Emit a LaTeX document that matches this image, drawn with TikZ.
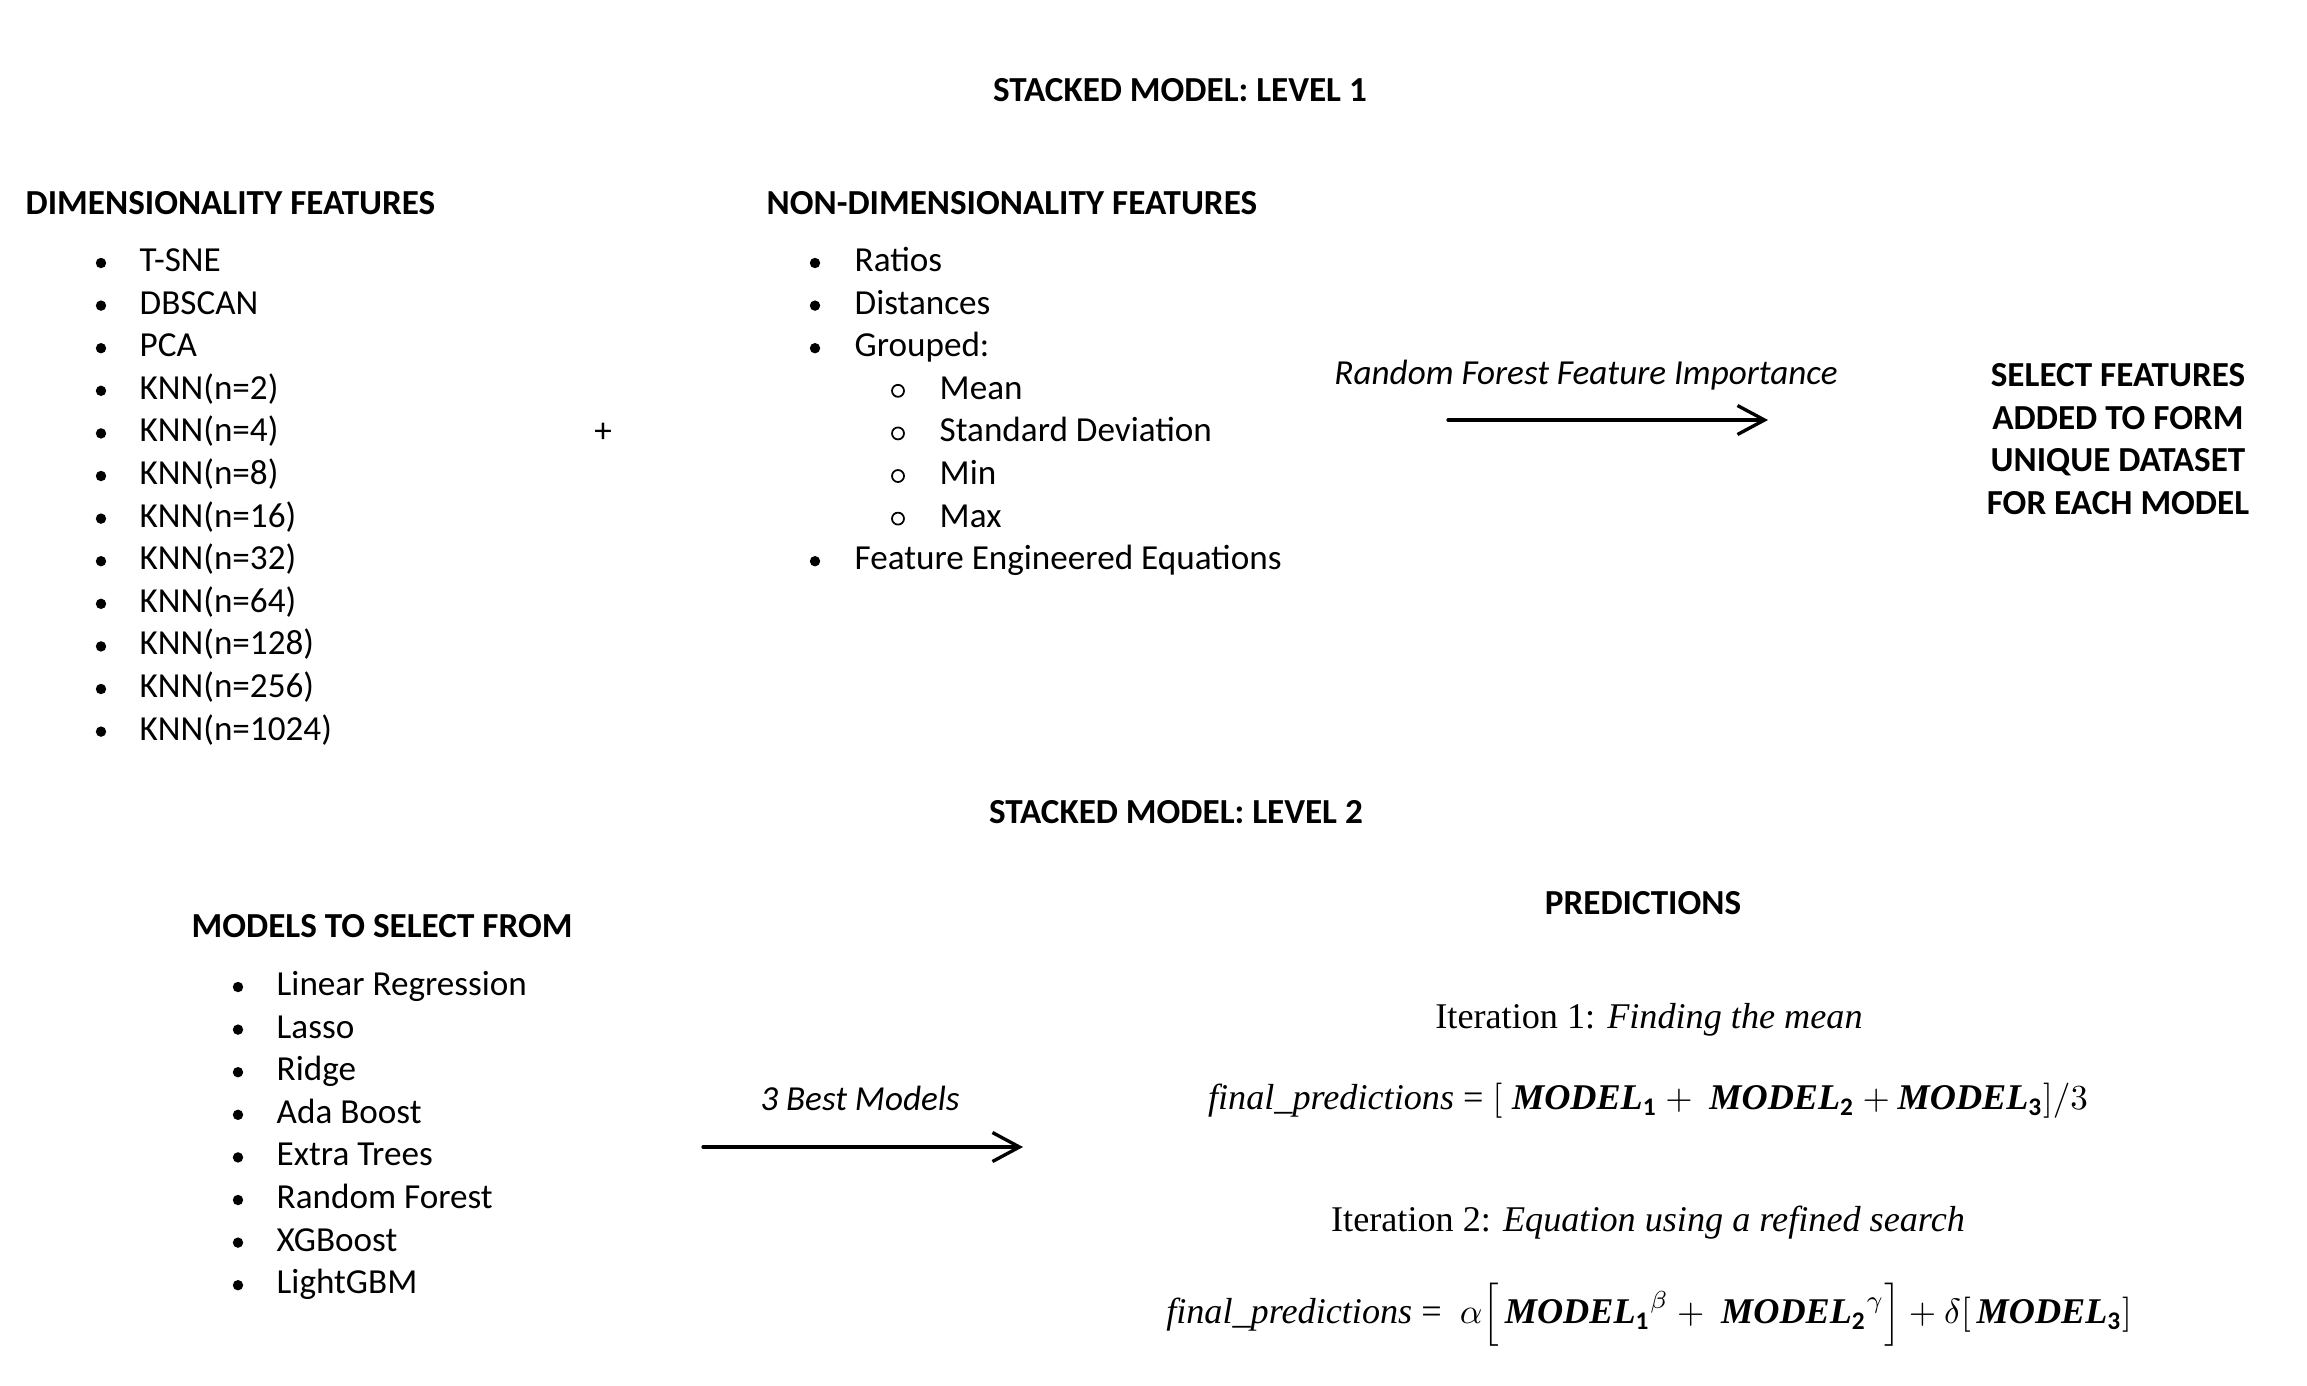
\documentclass[tikz,border=0pt]{standalone}
\usepackage{fontspec}
\setmainfont{Carlito}
\newfontfamily\eqfont{Liberation Serif}
\usetikzlibrary{arrows.meta}
\newcommand{\mdl}[1]{\mbox{\bfseries\itshape MODEL}_{\mathbf{#1}}}
\tikzset{
	head/.style={font=\fontsize{10}{12.1}\selectfont\bfseries,inner sep=0pt},
	item/.style={anchor=mid west,inner sep=0pt},
	eq/.style={font=\eqfont\fontsize{10.3}{12.5}\selectfont,inner sep=0pt}
}
\begin{document}
\begin{tikzpicture}[line join=round,line cap=round,>={Straight Barb[length=2.7mm,width=2.9mm]},font=\fontsize{10}{12.1}\selectfont]
	\useasboundingbox (0,0) rectangle (23.07,-13.85);
	\path
	(14.48,-4.20)coordinate(A1)++(0:3.20)coordinate(B1)
	(7.03,-11.47)coordinate(A2)++(0:3.20)coordinate(B2)
	;
	%%Level 1
	\node[head] (lvl1) at (11.80,-0.90) {STACKED MODEL: LEVEL 1};
	\node[head,anchor=mid west] (dim) at (0.25,-2.06) {DIMENSIONALITY FEATURES};
	\node[head,anchor=mid west] (nondim) at (7.66,-2.06) {NON-DIMENSIONALITY FEATURES};
	\foreach \t [count=\i] in {T-SNE,DBSCAN,PCA,KNN(n=2),KNN(n=4),KNN(n=8),KNN(n=16),KNN(n=32),KNN(n=64),KNN(n=128),KNN(n=256),KNN(n=1024)}{
			\fill (1.01,{-2.63-0.426*(\i-1)}) circle(0.052);
			\node[item] (d\i) at (1.39,{-2.63-0.426*(\i-1)}) {\t};
		}
	\node (plus) at (6.03,-4.33) {+};
	\foreach \t/\g [count=\i] in {Ratios/0,Distances/0,Grouped:/0,Mean/1,Standard Deviation/1,Min/1,Max/1,Feature Engineered Equations/0}{
			\ifnum\g=0
			\fill (8.15,{-2.63-0.426*(\i-1)}) circle(0.052);
			\else
			\draw[line width=0.5pt] (8.98,{-2.63-0.426*(\i-1)}) circle(0.06);
			\fi
			\node[item] (n\i) at ({8.54+0.85*\g},{-2.63-0.426*(\i-1)}) {\t};
		}
	\node[font=\fontsize{10}{12.1}\selectfont\itshape] (rfi) at (15.86,-3.75) {Random Forest Feature Importance};
	\draw[line width=0.95pt,->] (A1)--(B1);
	\node[head,align=center] (sel) at (21.18,-4.39) {SELECT FEATURES\\ADDED TO FORM\\UNIQUE DATASET\\FOR EACH MODEL};
	%%Level 2
	\node[head] (lvl2) at (11.76,-8.12) {STACKED MODEL: LEVEL 2};
	\node[head,anchor=mid west] (mods) at (1.91,-9.29) {MODELS TO SELECT FROM};
	\foreach \t [count=\i] in {Linear Regression,Lasso,Ridge,Ada Boost,Extra Trees,Random Forest,XGBoost,LightGBM}{
			\fill (2.38,{-9.87-0.426*(\i-1)}) circle(0.052);
			\node[item] (m\i) at (2.76,{-9.87-0.426*(\i-1)}) {\t};
		}
	\node[font=\fontsize{10}{12.1}\selectfont\itshape] (best) at (8.60,-10.98) {3 Best Models};
	\draw[line width=0.95pt,->] (A2)--(B2);
	%%Predictions
	\node[head] (pred) at (16.43,-9.03) {PREDICTIONS};
	\node[eq] (it1) at (16.49,-10.20) {Iteration 1: \textit{Finding the mean}};
	\node[eq] (eq1) at (16.48,-11.01) {\textit{final\_predictions} = $[\;\mdl1 + \ \mdl2 + \mdl3]/3$};
	\node[eq] (it2) at (16.48,-12.23) {Iteration 2: \textit{Equation using a refined search}};
	\node[eq] (eq2) at (16.49,-13.15) {\textit{final\_predictions} = \ $\alpha\Bigl[\,{\mdl1}^{\beta} + \ {\mdl2}^{\gamma}\Bigr] + \delta[\,\mdl3]$};
\end{tikzpicture}
\end{document}
